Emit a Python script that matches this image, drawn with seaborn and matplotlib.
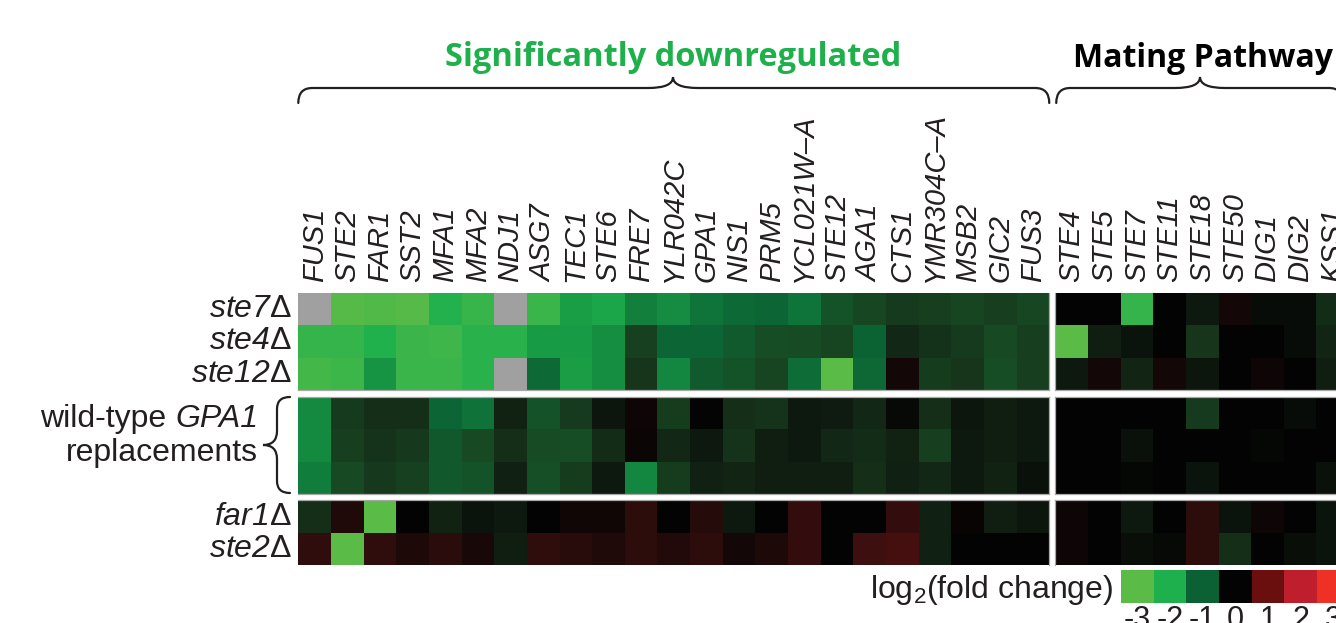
import numpy as np
import pandas as pd
import matplotlib
matplotlib.use("Agg")
import matplotlib.pyplot as plt
from matplotlib.colors import LinearSegmentedColormap
from matplotlib.path import Path
from matplotlib.patches import PathPatch
import seaborn as sns

sns.set_theme(style="white")
plt.rcParams["font.family"] = ["Liberation Sans", "DejaVu Sans"]
plt.rcParams["mathtext.fontset"] = "custom"
plt.rcParams["mathtext.rm"] = "Liberation Sans"
plt.rcParams["mathtext.it"] = "Liberation Sans:italic"
plt.rcParams["mathtext.sf"] = "Liberation Sans:italic"
plt.rcParams["mathtext.bf"] = "Liberation Sans:bold"

nan = np.nan

# ---- genes (columns) ----
down_genes = ["FUS1", "STE2", "FAR1", "SST2", "MFA1", "MFA2", "NDJ1", "ASG7",
              "TEC1", "STE6", "FRE7", "YLR042C", "GPA1", "NIS1", "PRM5",
              "YCL021W\u2013A", "STE12", "AGA1", "CTS1", "YMR304C\u2013A",
              "MSB2", "GIC2", "FUS3"]
mating_genes = ["STE4", "STE5", "STE7", "STE11", "STE18", "STE50", "DIG1",
                "DIG2", "KSS1"]

# ---- log2 fold change per strain: 23 downregulated genes, then 9 mating genes ----
ste7_fc = [nan, -2.90, -2.82, -2.90, -2.08, -2.40, nan, -2.44, -1.76, -1.86,
           -1.37, -1.53, -1.23, -1.11, -1.05, -1.24, -0.80, -0.67, -0.52,
           -0.57, -0.65, -0.58, -0.67,
           0.00, 0.00, -2.35, 0.00, -0.21, 0.16, -0.09, -0.09, -0.39]
ste4_fc = [-2.35, -2.35, -2.05, -2.48, -2.53, -2.18, -2.19, -1.73, -1.72,
           -1.56, -0.60, -1.05, -1.05, -0.91, -0.75, -0.72, -0.64, -1.03,
           -0.34, -0.43, -0.53, -0.70, -0.57,
           -3.00, -0.24, -0.15, 0.00, -0.49, 0.00, 0.00, -0.09, -0.32]
ste12_fc = [-2.61, -2.50, -1.62, -2.44, -2.44, -2.20, nan, -1.11, -1.77,
            -1.56, -0.47, -1.46, -0.91, -0.80, -0.65, -1.13, -3.00, -1.10,
            0.15, -0.56, -0.47, -0.74, -0.57,
            -0.19, 0.16, -0.31, 0.16, -0.17, 0.00, 0.10, 0.00, -0.25]
wt1_fc = [-1.52, -0.53, -0.41, -0.40, -1.04, -1.20, -0.29, -0.80, -0.53,
          -0.18, 0.10, -0.56, -0.02, -0.40, -0.46, -0.21, -0.23, -0.34,
          -0.06, -0.42, -0.18, -0.25, -0.19,
          0.00, 0.00, 0.00, 0.00, -0.53, 0.00, 0.00, -0.09, 0.00]
wt2_fc = [-1.52, -0.58, -0.45, -0.51, -0.87, -0.70, -0.40, -0.72, -0.75,
          -0.39, 0.08, -0.35, -0.20, -0.45, -0.25, -0.19, -0.35, -0.39,
          -0.30, -0.58, -0.19, -0.25, -0.19,
          0.00, 0.00, -0.12, 0.00, 0.00, 0.00, -0.03, 0.00, 0.00]
wt3_fc = [-1.34, -0.70, -0.50, -0.60, -0.88, -0.80, -0.26, -0.76, -0.55,
          -0.21, -1.46, -0.56, -0.26, -0.31, -0.25, -0.25, -0.24, -0.42,
          -0.26, -0.35, -0.19, -0.29, -0.14,
          0.00, 0.00, -0.04, 0.00, -0.15, 0.00, 0.00, 0.00, -0.12]
far1_fc = [-0.41, 0.26, -3.00, 0.00, -0.29, -0.16, -0.21, 0.02, 0.12, 0.12,
           0.38, 0.00, 0.32, -0.21, 0.00, 0.43, 0.00, 0.00, 0.43, -0.27,
           0.05, -0.25, -0.17,
           0.10, 0.00, -0.21, 0.00, 0.38, -0.16, 0.10, 0.00, -0.16]
ste2_fc = [0.41, -3.00, 0.41, 0.24, 0.36, 0.20, -0.25, 0.41, 0.33, 0.26,
           0.38, 0.30, 0.38, 0.15, 0.24, 0.43, 0.00, 0.53, 0.63, -0.27,
           0.00, 0.00, 0.00,
           0.10, 0.00, -0.10, -0.05, 0.38, -0.41, 0.00, -0.10, -0.16]

# strain names in italics, deletion sign upright
deletion_labels = [r"$\mathsf{ste7}\Delta$", r"$\mathsf{ste4}\Delta$",
                   r"$\mathsf{ste12}\Delta$"]
pheromone_labels = [r"$\mathsf{far1}\Delta$", r"$\mathsf{ste2}\Delta$"]

legend_values = [-3, -2, -1, 0, 1, 2, 3]
legend_labels = ["-3", "-2", "-1", "0", "1", "2", "3"]

# ---- tables ----
all_genes = down_genes + mating_genes
fc = pd.DataFrame([ste7_fc, ste4_fc, ste12_fc, wt1_fc, wt2_fc, wt3_fc,
                   far1_fc, ste2_fc],
                  index=["ste7", "ste4", "ste12", "wt1", "wt2", "wt3",
                         "far1", "ste2"],
                  columns=all_genes)

# green - black - red scale
anchors = [(-3.0, "#5BBB47"), (-2.0, "#1DB04C"), (-1.0, "#0B6133"),
           (-0.75, "#174E25"), (-0.5, "#16371C"), (-0.25, "#101E11"),
           (0.0, "#030303"), (0.25, "#1E0909"), (0.5, "#3A0F0F"),
           (1.0, "#6A0F0E"), (2.0, "#BE1E2D"), (3.0, "#EE3124")]
cmap = LinearSegmentedColormap.from_list(
    "fold", [((v + 3) / 6, c) for v, c in anchors])

W, H = 1336, 623
TXT = "#231f20"
fig = plt.figure(figsize=(W / 100, H / 100), dpi=100)


def px_axes(x0, y0, x1, y1):
    return fig.add_axes([x0 / W, 1 - y1 / H, (x1 - x0) / W, (y1 - y0) / H])


CW = 32.65
xa0, xa1 = 298.3, 298.3 + 23 * CW
xb0 = xa1 + 6.0
xb1 = xb0 + 9 * CW
row_blocks = [(292.7, 390.2, ["ste7", "ste4", "ste12"]),
              (396.5, 494.0, ["wt1", "wt2", "wt3"]),
              (500.3, 565.3, ["far1", "ste2"])]
row_text = [deletion_labels, None, pheromone_labels]


def block(x0, x1, y0, y1, data, xlabels, ylabels, gap_sides):
    ax = px_axes(x0, y0, x1, y1)
    ax.set_facecolor("#A0A0A0")
    sns.heatmap(data, ax=ax, cmap=cmap, vmin=-3, vmax=3, cbar=False,
                xticklabels=xlabels if xlabels else False,
                yticklabels=ylabels if ylabels else False)
    ax.tick_params(length=0)
    for side, sp in ax.spines.items():
        sp.set_visible(side in gap_sides)
        sp.set_color("#a8a8a8")
        sp.set_linewidth(0.9)
    if xlabels:
        ax.xaxis.tick_top()
        ax.tick_params(axis="x", labelrotation=90, pad=7.5, labelsize=21,
                       labelcolor=TXT, top=False, bottom=False)
        for lbl in ax.get_xticklabels():
            lbl.set_fontstyle("italic")
    if ylabels:
        ax.tick_params(axis="y", labelrotation=0, pad=4.5, labelsize=23,
                       labelcolor=TXT)
    ax.set_xlabel("")
    ax.set_ylabel("")
    return ax


for i, (y0, y1, rows) in enumerate(row_blocks):
    sides_v = set()
    if i > 0:
        sides_v.add("top")
    if i < 2:
        sides_v.add("bottom")
    block(xa0, xa1, y0, y1, fc.loc[rows, down_genes],
          down_genes if i == 0 else None, row_text[i],
          sides_v | {"right"})
    block(xb0, xb1, y0, y1, fc.loc[rows, mating_genes],
          mating_genes if i == 0 else None, None,
          sides_v | {"left"})

# ---- colour key ----
kx0 = 1121.0
kax = px_axes(kx0, 570.0, kx0 + 7 * CW, 602.7)
sns.heatmap(pd.DataFrame([legend_values], columns=legend_labels), ax=kax,
            cmap=cmap, vmin=-3, vmax=3, cbar=False,
            xticklabels=legend_labels, yticklabels=False)
kax.tick_params(axis="x", length=0, pad=2, labelsize=22, labelrotation=0,
                labelcolor=TXT)

# ---- annotation layer ----
ov = fig.add_axes([0, 0, 1, 1])
ov.set_xlim(0, W)
ov.set_ylim(H, 0)
ov.axis("off")
ov.patch.set_alpha(0)

C3, L, M = Path.CURVE3, Path.LINETO, Path.MOVETO


def hbrace(x0, x1, xm, y_bar, y_end, y_tip, r_end=14, r_tip=25):
    verts = [(x0, y_end), (x0, y_bar), (x0 + r_end, y_bar),
             (xm - r_tip, y_bar), (xm, y_bar), (xm, y_tip),
             (xm, y_bar), (xm + r_tip, y_bar),
             (x1 - r_end, y_bar), (x1, y_bar), (x1, y_end)]
    codes = [M, C3, C3, L, C3, C3, C3, C3, L, C3, C3]
    ov.add_patch(PathPatch(Path(verts, codes), fill=False, lw=1.6,
                           edgecolor=TXT, capstyle="round"))


def vbrace(y0, y1, ym, x_bar, x_end, x_tip, r_end=12, r_tip=14):
    verts = [(x_end, y0), (x_bar, y0), (x_bar, y0 + r_end),
             (x_bar, ym - r_tip), (x_bar, ym), (x_tip, ym),
             (x_bar, ym), (x_bar, ym + r_tip),
             (x_bar, y1 - r_end), (x_bar, y1), (x_end, y1)]
    codes = [M, C3, C3, L, C3, C3, C3, C3, L, C3, C3]
    ov.add_patch(PathPatch(Path(verts, codes), fill=False, lw=1.6,
                           edgecolor=TXT, capstyle="round"))


hbrace(xa0, xa1, 673, 88, 103, 77)
hbrace(xb0 + 1, 1343, 1200, 88, 103, 77)
vbrace(397, 493, 445, 277, 290, 263)

ov.text(673, 66, "Significantly downregulated", ha="center", va="baseline",
        fontsize=23.5, fontweight="bold", color="#1DB04B",
        family=["Open Sans", "DejaVu Sans"])
ov.text(1073, 67, "Mating Pathway", ha="left", va="baseline",
        fontsize=23, fontweight="bold", color="black",
        family=["Open Sans", "DejaVu Sans"])

# two-line strain group label; the gene name is set in italics
gpa = ov.text(258, 427, "GPA1", ha="right", va="baseline", fontsize=23,
              fontstyle="italic", color=TXT)
ov.annotate("wild-type ", xy=(0, 0), xycoords=gpa, ha="right", va="bottom",
            fontsize=23, color=TXT)
ov.text(258, 461, "replacements", ha="right", va="baseline",
        fontsize=23, color=TXT)

ov.text(1113, 598, r"log$_2$(fold change)", ha="right", va="baseline",
        fontsize=23, color=TXT)

fig.savefig("out.png", dpi=100)
